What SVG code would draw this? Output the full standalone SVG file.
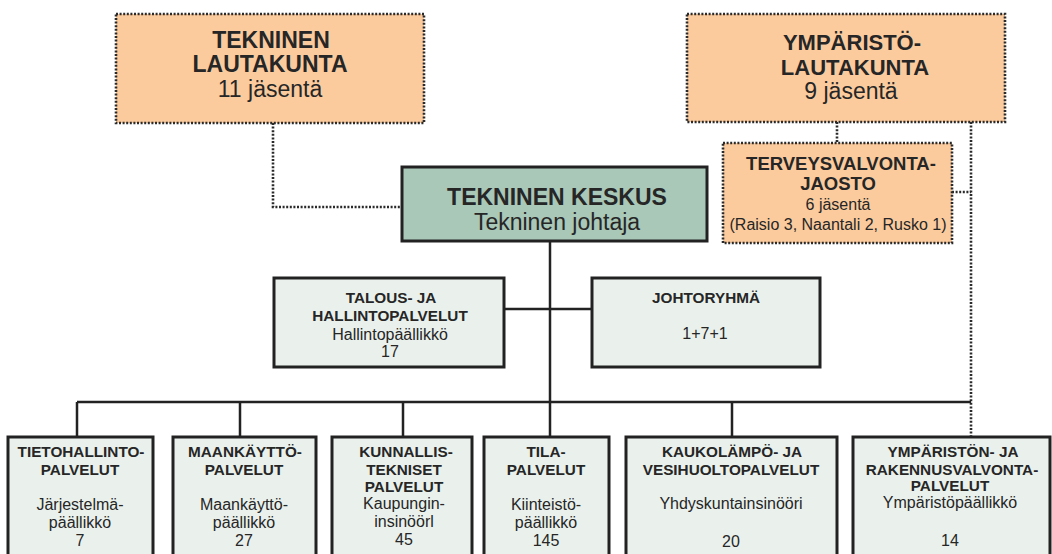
<svg xmlns="http://www.w3.org/2000/svg" width="1052" height="554" viewBox="0 0 1052 554">
<style>
.board{fill:#FBCB9E;stroke:#2a2a2a;stroke-width:2.6;stroke-dasharray:2 1.6}
.center{fill:#A9C8B8;stroke:#222;stroke-width:3}
.unit{fill:#EAF1EC;stroke:#222;stroke-width:3}
.solid{fill:none;stroke:#222;stroke-width:2.5}
.dot{fill:none;stroke:#2a2a2a;stroke-width:2.6;stroke-dasharray:2 1.6}
text{font-family:"Liberation Sans",Arial,sans-serif;fill:#262626;text-anchor:middle}
.b23{font-size:23px;font-weight:bold}
.b22{font-size:22px;font-weight:bold}
.r23{font-size:23px}
.b18{font-size:18.5px;font-weight:bold}
.r16{font-size:16px}
.b15{font-size:15.3px;font-weight:bold}
.r15{font-size:16px}
</style>
<rect width="1052" height="554" fill="#fff"/>
<g id="connectors">
<path class="dot" d="M273 123V207H402"/>
<path class="dot" d="M837 122V143"/>
<path class="dot" d="M971 122V437"/>
<path class="dot" d="M952 192H971"/>
<path class="solid" d="M550 241V402"/>
<path class="solid" d="M504 309H592"/>
<path class="solid" stroke-width="3" d="M77 402H971"/>
<path class="solid" d="M77 402V437M240 402V437M403 402V437M550 402V437M732 402V437"/>
</g>
<g id="tekninen-lautakunta">
<rect class="board" x="116" y="14" width="308" height="109"/>
<text class="b23" x="271" y="48">TEKNINEN</text>
<text class="b23" x="270" y="72">LAUTAKUNTA</text>
<text class="r23" x="270" y="97">11 jäsentä</text>
</g>
<g id="ymparisto-lautakunta">
<rect class="board" x="687" y="14" width="318" height="108"/>
<text class="b22" x="852" y="50">YMPÄRISTÖ-</text>
<text class="b22" x="855" y="75">LAUTAKUNTA</text>
<text class="r23" x="851" y="99">9 jäsentä</text>
</g>
<g id="terveysvalvontajaosto">
<rect class="board" x="723" y="143" width="229" height="100"/>
<text class="b18" x="841" y="170">TERVEYSVALVONTA-</text>
<text class="b18" x="838" y="190">JAOSTO</text>
<text class="r16" x="838" y="210">6 jäsentä</text>
<text class="r16" x="838" y="230">(Raisio 3, Naantali 2, Rusko 1)</text>
</g>
<g id="tekninen-keskus">
<rect class="center" x="402" y="167" width="305" height="74"/>
<text class="b23" x="557" y="205">TEKNINEN KESKUS</text>
<text class="r23" x="557" y="230">Tekninen johtaja</text>
</g>
<g id="talous">
<rect class="unit" x="274" y="278" width="230" height="89"/>
<text class="b15" x="391" y="303">TALOUS- JA</text>
<text class="b15" x="390" y="321">HALLINTOPALVELUT</text>
<text class="r15" x="390" y="340">Hallintopäällikkö</text>
<text class="r15" x="390" y="357">17</text>
</g>
<g id="johtoryhma">
<rect class="unit" x="592" y="278" width="228" height="89"/>
<text class="b15" x="706" y="303">JOHTORYHMÄ</text>
<text class="r15" x="705" y="339">1+7+1</text>
</g>
<g id="tietohallinto">
<rect class="unit" x="8" y="437" width="145" height="125"/>
<text class="b15" x="81" y="457">TIETOHALLINTO-</text>
<text class="b15" x="80" y="475">PALVELUT</text>
<text class="r15" x="80" y="510">Järjestelmä-</text>
<text class="r15" x="80" y="528">päällikkö</text>
<text class="r15" x="80" y="546">7</text>
</g>
<g id="maankaytto">
<rect class="unit" x="173" y="437" width="143" height="125"/>
<text class="b15" x="245" y="457">MAANKÄYTTÖ-</text>
<text class="b15" x="244" y="475">PALVELUT</text>
<text class="r15" x="244" y="510">Maankäyttö-</text>
<text class="r15" x="244" y="528">päällikkö</text>
<text class="r15" x="244" y="546">27</text>
</g>
<g id="kunnallistekniset">
<rect class="unit" x="332" y="437" width="140" height="125"/>
<text class="b15" x="406" y="457">KUNNALLIS-</text>
<text class="b15" x="404" y="475">TEKNISET</text>
<text class="b15" x="404" y="492">PALVELUT</text>
<text class="r15" x="404" y="509">Kaupungin-</text>
<text class="r15" x="404" y="527">insinöörl</text>
<text class="r15" x="404" y="545">45</text>
</g>
<g id="tilapalvelut">
<rect class="unit" x="484" y="437" width="125" height="125"/>
<text class="b15" x="546" y="457">TILA-</text>
<text class="b15" x="546" y="475">PALVELUT</text>
<text class="r15" x="546" y="510">Kiinteistö-</text>
<text class="r15" x="546" y="528">päällikkö</text>
<text class="r15" x="546" y="546">145</text>
</g>
<g id="kaukolampo">
<rect class="unit" x="626" y="437" width="211" height="125"/>
<text class="b15" x="732" y="457">KAUKOLÄMPÖ- JA</text>
<text class="b15" x="731" y="475">VESIHUOLTOPALVELUT</text>
<text class="r15" x="731" y="509">Yhdyskuntainsinööri</text>
<text class="r15" x="731" y="547">20</text>
</g>
<g id="ymparisto-rakennusvalvonta">
<rect class="unit" x="853" y="437" width="197" height="125"/>
<text class="b15" x="953" y="457">YMPÄRISTÖN- JA</text>
<text class="b15" x="952" y="475">RAKENNUSVALVONTA-</text>
<text class="b15" x="950" y="491">PALVELUT</text>
<text class="r15" x="950" y="508">Ympäristöpäällikkö</text>
<text class="r15" x="950" y="546">14</text>
</g>
</svg>
